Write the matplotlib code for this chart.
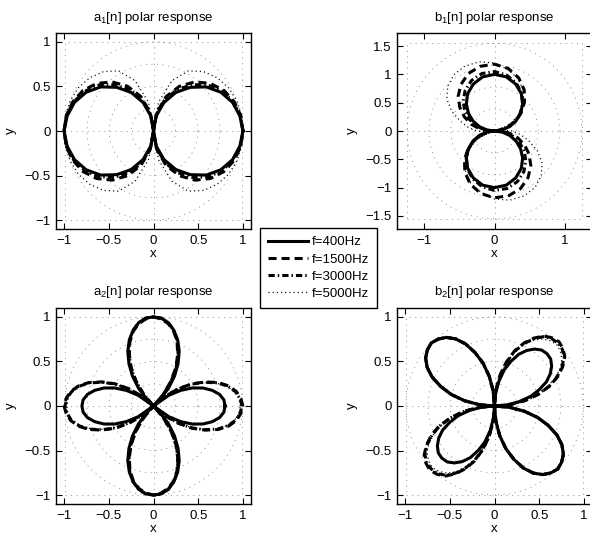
import numpy as np
import matplotlib
matplotlib.use("Agg")
import matplotlib.pyplot as plt
from matplotlib.lines import Line2D

plt.rcParams['font.family'] = ['Liberation Sans', 'DejaVu Sans']
plt.rcParams['mathtext.fontset'] = 'custom'
plt.rcParams['mathtext.rm'] = 'Liberation Sans'
plt.rcParams['mathtext.default'] = 'regular'
plt.rcParams['lines.scale_dashes'] = False

# ---------------- data ----------------
# angles (degrees) at which the responses were read
theta_deg_10 = [0, 10, 20, 30, 40, 50, 60, 70, 80, 90, 100, 110, 120, 130, 140, 150, 160, 170,
                180, 190, 200, 210, 220, 230, 240, 250, 260, 270, 280, 290, 300, 310, 320, 330, 340, 350]
theta_deg_5 = [0, 5, 10, 15, 20, 25, 30, 35, 40, 45, 50, 55, 60, 65, 70, 75, 80, 85,
               90, 95, 100, 105, 110, 115, 120, 125, 130, 135, 140, 145, 150, 155, 160, 165, 170, 175,
               180, 185, 190, 195, 200, 205, 210, 215, 220, 225, 230, 235, 240, 245, 250, 255, 260, 265,
               270, 275, 280, 285, 290, 295, 300, 305, 310, 315, 320, 325, 330, 335, 340, 345, 350, 355]

freq_labels = ['f=400Hz', 'f=1500Hz', 'f=3000Hz', 'f=5000Hz']

a1_400 = [1.00, 0.98, 0.94, 0.87, 0.77, 0.64, 0.50, 0.34, 0.17, 0.00, 0.17, 0.34, 0.50, 0.64, 0.77, 0.87, 0.94, 0.98,
          1.00, 0.98, 0.94, 0.87, 0.77, 0.64, 0.50, 0.34, 0.17, 0.00, 0.17, 0.34, 0.50, 0.64, 0.77, 0.87, 0.94, 0.98]
a1_1500 = [1.00, 0.99, 0.96, 0.91, 0.83, 0.72, 0.58, 0.41, 0.21, 0.00, 0.21, 0.41, 0.58, 0.72, 0.83, 0.91, 0.96, 0.99,
           1.00, 0.99, 0.96, 0.91, 0.83, 0.72, 0.58, 0.41, 0.21, 0.00, 0.21, 0.41, 0.58, 0.72, 0.83, 0.91, 0.96, 0.99]
a1_3000 = [1.00, 0.99, 0.95, 0.89, 0.80, 0.68, 0.54, 0.38, 0.19, 0.00, 0.19, 0.38, 0.54, 0.68, 0.80, 0.89, 0.95, 0.99,
           1.00, 0.99, 0.95, 0.89, 0.80, 0.68, 0.54, 0.38, 0.19, 0.00, 0.19, 0.38, 0.54, 0.68, 0.80, 0.89, 0.95, 0.99]
a1_5000 = [1.00, 1.00, 0.99, 0.97, 0.93, 0.87, 0.78, 0.60, 0.33, 0.05, 0.33, 0.60, 0.78, 0.87, 0.93, 0.97, 0.99, 1.00,
           1.00, 1.00, 0.99, 0.97, 0.93, 0.87, 0.78, 0.60, 0.33, 0.05, 0.33, 0.60, 0.78, 0.87, 0.93, 0.97, 0.99, 1.00]

b1_400 = [0.00, 0.11, 0.23, 0.35, 0.48, 0.62, 0.76, 0.88, 0.97, 1.00, 0.97, 0.88, 0.76, 0.62, 0.48, 0.35, 0.23, 0.11,
          0.00, 0.11, 0.23, 0.35, 0.48, 0.62, 0.76, 0.88, 0.97, 1.00, 0.97, 0.88, 0.76, 0.62, 0.48, 0.35, 0.23, 0.11]
b1_1500 = [0.08, 0.05, 0.19, 0.34, 0.49, 0.66, 0.84, 1.00, 1.12, 1.18, 1.16, 1.08, 0.95, 0.80, 0.64, 0.49, 0.35, 0.21,
           0.08, 0.05, 0.19, 0.34, 0.49, 0.66, 0.84, 1.00, 1.12, 1.18, 1.16, 1.08, 0.95, 0.80, 0.64, 0.49, 0.35, 0.21]
b1_3000 = [0.04, 0.07, 0.20, 0.33, 0.47, 0.62, 0.77, 0.90, 1.00, 1.05, 1.03, 0.95, 0.83, 0.69, 0.55, 0.41, 0.28, 0.16,
           0.04, 0.07, 0.20, 0.33, 0.47, 0.62, 0.77, 0.90, 1.00, 1.05, 1.03, 0.95, 0.83, 0.69, 0.55, 0.41, 0.28, 0.16]
b1_5000 = [0.25, 0.09, 0.09, 0.27, 0.46, 0.64, 0.82, 0.98, 1.10, 1.20, 1.24, 1.22, 1.15, 1.03, 0.88, 0.70, 0.52, 0.38,
           0.25, 0.09, 0.09, 0.27, 0.46, 0.64, 0.82, 0.98, 1.10, 1.20, 1.24, 1.22, 1.15, 1.03, 0.88, 0.70, 0.52, 0.38]

a2_400 = [0.80, 0.79, 0.75, 0.68, 0.59, 0.48, 0.35, 0.21, 0.00, 0.10, 0.26, 0.41, 0.55, 0.68, 0.79, 0.88, 0.95, 0.99,
          1.00, 0.99, 0.95, 0.88, 0.79, 0.68, 0.55, 0.41, 0.26, 0.10, 0.00, 0.21, 0.35, 0.48, 0.59, 0.68, 0.75, 0.79,
          0.80, 0.79, 0.75, 0.68, 0.59, 0.48, 0.35, 0.21, 0.00, 0.10, 0.26, 0.41, 0.55, 0.68, 0.79, 0.88, 0.95, 0.99,
          1.00, 0.99, 0.95, 0.88, 0.79, 0.68, 0.55, 0.41, 0.26, 0.10, 0.00, 0.21, 0.35, 0.48, 0.59, 0.68, 0.75, 0.79]
a2_1500 = [1.00, 0.98, 0.94, 0.87, 0.77, 0.64, 0.50, 0.34, 0.17, 0.00, 0.17, 0.34, 0.50, 0.64, 0.77, 0.87, 0.94, 0.98,
           1.00, 0.98, 0.94, 0.87, 0.77, 0.64, 0.50, 0.34, 0.17, 0.00, 0.17, 0.34, 0.50, 0.64, 0.77, 0.87, 0.94, 0.98,
           1.00, 0.98, 0.94, 0.87, 0.77, 0.64, 0.50, 0.34, 0.17, 0.00, 0.17, 0.34, 0.50, 0.64, 0.77, 0.87, 0.94, 0.98,
           1.00, 0.98, 0.94, 0.87, 0.77, 0.64, 0.50, 0.34, 0.17, 0.00, 0.17, 0.34, 0.50, 0.64, 0.77, 0.87, 0.94, 0.98]
a2_3000 = [0.99, 0.97, 0.93, 0.86, 0.76, 0.63, 0.49, 0.33, 0.16, 0.00, 0.18, 0.35, 0.51, 0.65, 0.78, 0.88, 0.95, 0.99,
           1.00, 0.99, 0.95, 0.88, 0.78, 0.65, 0.51, 0.35, 0.18, 0.00, 0.16, 0.33, 0.49, 0.63, 0.76, 0.86, 0.93, 0.97,
           0.99, 0.97, 0.93, 0.86, 0.76, 0.63, 0.49, 0.33, 0.16, 0.00, 0.18, 0.35, 0.51, 0.65, 0.78, 0.88, 0.95, 0.99,
           1.00, 0.99, 0.95, 0.88, 0.78, 0.65, 0.51, 0.35, 0.18, 0.00, 0.16, 0.33, 0.49, 0.63, 0.76, 0.86, 0.93, 0.97]
a2_5000 = [0.97, 0.96, 0.92, 0.85, 0.75, 0.62, 0.48, 0.32, 0.15, 0.00, 0.19, 0.36, 0.52, 0.66, 0.78, 0.88, 0.95, 0.99,
           1.00, 0.99, 0.95, 0.88, 0.78, 0.66, 0.52, 0.36, 0.19, 0.00, 0.15, 0.32, 0.48, 0.62, 0.75, 0.85, 0.92, 0.96,
           0.97, 0.96, 0.92, 0.85, 0.75, 0.62, 0.48, 0.32, 0.15, 0.00, 0.19, 0.36, 0.52, 0.66, 0.78, 0.88, 0.95, 0.99,
           1.00, 0.99, 0.95, 0.88, 0.78, 0.66, 0.52, 0.36, 0.19, 0.00, 0.15, 0.32, 0.48, 0.62, 0.75, 0.85, 0.92, 0.96]

b2_400 = [0.00, 0.14, 0.28, 0.42, 0.53, 0.64, 0.72, 0.78, 0.82, 0.83, 0.82, 0.78, 0.72, 0.64, 0.53, 0.42, 0.28, 0.14,
          0.00, 0.17, 0.34, 0.50, 0.64, 0.77, 0.87, 0.94, 0.98, 1.00, 0.98, 0.94, 0.87, 0.77, 0.64, 0.50, 0.34, 0.17,
          0.00, 0.14, 0.28, 0.42, 0.53, 0.64, 0.72, 0.78, 0.82, 0.83, 0.82, 0.78, 0.72, 0.64, 0.53, 0.42, 0.28, 0.14,
          0.00, 0.17, 0.34, 0.50, 0.64, 0.77, 0.87, 0.94, 0.98, 1.00, 0.98, 0.94, 0.87, 0.77, 0.64, 0.50, 0.34, 0.17]
b2_1500 = [0.00, 0.18, 0.35, 0.51, 0.66, 0.78, 0.88, 0.96, 1.00, 1.02, 1.00, 0.96, 0.88, 0.78, 0.66, 0.51, 0.35, 0.18,
           0.00, 0.17, 0.34, 0.50, 0.64, 0.77, 0.87, 0.94, 0.98, 1.00, 0.98, 0.94, 0.87, 0.77, 0.64, 0.50, 0.34, 0.17,
           0.00, 0.18, 0.35, 0.51, 0.66, 0.78, 0.88, 0.96, 1.00, 1.02, 1.00, 0.96, 0.88, 0.78, 0.66, 0.51, 0.35, 0.18,
           0.00, 0.17, 0.34, 0.50, 0.64, 0.77, 0.87, 0.94, 0.98, 1.00, 0.98, 0.94, 0.87, 0.77, 0.64, 0.50, 0.34, 0.17]
b2_3000 = [0.00, 0.17, 0.34, 0.50, 0.65, 0.77, 0.87, 0.95, 0.99, 1.00, 0.99, 0.95, 0.87, 0.77, 0.65, 0.50, 0.34, 0.17,
           0.00, 0.17, 0.34, 0.50, 0.64, 0.77, 0.87, 0.94, 0.98, 1.00, 0.98, 0.94, 0.87, 0.77, 0.64, 0.50, 0.34, 0.17,
           0.00, 0.17, 0.34, 0.50, 0.65, 0.77, 0.87, 0.95, 0.99, 1.00, 0.99, 0.95, 0.87, 0.77, 0.65, 0.50, 0.34, 0.17,
           0.00, 0.17, 0.34, 0.50, 0.64, 0.77, 0.87, 0.94, 0.98, 1.00, 0.98, 0.94, 0.87, 0.77, 0.64, 0.50, 0.34, 0.17]
b2_5000 = [0.00, 0.16, 0.33, 0.49, 0.63, 0.75, 0.85, 0.92, 0.96, 0.98, 0.96, 0.92, 0.85, 0.75, 0.63, 0.49, 0.33, 0.16,
           0.00, 0.17, 0.34, 0.50, 0.64, 0.77, 0.87, 0.94, 0.98, 1.00, 0.98, 0.94, 0.87, 0.77, 0.64, 0.50, 0.34, 0.17,
           0.00, 0.16, 0.33, 0.49, 0.63, 0.75, 0.85, 0.92, 0.96, 0.98, 0.96, 0.92, 0.85, 0.75, 0.63, 0.49, 0.33, 0.16,
           0.00, 0.17, 0.34, 0.50, 0.64, 0.77, 0.87, 0.94, 0.98, 1.00, 0.98, 0.94, 0.87, 0.77, 0.64, 0.50, 0.34, 0.17]

a1_xticks = [-1, -0.5, 0, 0.5, 1]
b1_xticks = [-1, 0, 1]
b1_yticks = [-1.5, -1, -0.5, 0, 0.5, 1, 1.5]
grid_fracs = [0.25, 0.5, 0.75, 1.0]   # polar grid circles, as fractions of the grid radius

panels = [
    dict(title='a$_1$[n] polar response', th=theta_deg_10, series=[a1_400, a1_1500, a1_3000, a1_5000],
         xlim=1.09, ylim=1.1, xt=a1_xticks, yt=a1_xticks, R=1.0, box=(56, 33)),
    dict(title='b$_1$[n] polar response', th=theta_deg_10, series=[b1_400, b1_1500, b1_3000, b1_5000],
         xlim=1.38, ylim=1.73, xt=b1_xticks, yt=b1_yticks, R=1.55, box=(397, 33)),
    dict(title='a$_2$[n] polar response', th=theta_deg_5, series=[a2_400, a2_1500, a2_3000, a2_5000],
         xlim=1.09, ylim=1.1, xt=a1_xticks, yt=a1_xticks, R=1.0, box=(56, 308)),
    dict(title='b$_2$[n] polar response', th=theta_deg_5, series=[b2_400, b2_1500, b2_3000, b2_5000],
         xlim=1.09, ylim=1.1, xt=a1_xticks, yt=a1_xticks, R=1.0, box=(397, 308)),
]

# ---------------- styles ----------------
styles = [
    dict(color='black', lw=2.2, linestyle='-'),
    dict(color='black', lw=2.2, linestyle=(0, (5.8, 3.6))),
    dict(color='black', lw=2.2, linestyle=(0, (4.5, 2.2, 1.0, 2.2))),
    dict(color='black', lw=0.9, linestyle=(0, (0.8, 2.2))),
]
grid_kw = dict(color='#808080', lw=0.55, linestyle=(0, (0.8, 3.2)))

W, H = 590, 541
fig = plt.figure(figsize=(W / 100, H / 100), dpi=100)
bw, bh = 195, 196


def fmt(v):
    return ('%g' % v).replace('-', '\u2212')


for p in panels:
    bx, by = p['box']
    ax = fig.add_axes([bx / W, 1 - (by + bh) / H, bw / W, bh / H])
    kx = p['xlim'] / p['ylim']          # keeps the grid round on screen
    R = p['R']
    phi = np.linspace(0, 2 * np.pi, 361)
    for fr in grid_fracs:
        ax.plot(kx * fr * R * np.cos(phi), fr * R * np.sin(phi), **grid_kw)
    ax.plot([-kx * R, kx * R], [0, 0], **grid_kw)
    ax.plot([0, 0], [-R, R], **grid_kw)
    ax.plot([-kx * R, kx * R, kx * R, -kx * R, -kx * R], [-R, -R, R, R, -R], **grid_kw)
    th = np.deg2rad(np.array(p['th'] + [p['th'][0]]))
    for vals, st in zip(p['series'], styles):
        r = np.array(vals + [vals[0]])
        ax.plot(r * np.cos(th), r * np.sin(th), **st)
    ax.set_xlim(-p['xlim'], p['xlim'])
    ax.set_ylim(-p['ylim'], p['ylim'])
    ax.set_xticks(p['xt'])
    ax.set_yticks(p['yt'])
    ax.set_xticklabels([fmt(v) for v in p['xt']])
    ax.set_yticklabels([fmt(v) for v in p['yt']])
    ax.tick_params(direction='in', length=4, width=0.8, top=True, right=True, labelsize=9.5, pad=4)
    for s in ax.spines.values():
        s.set_linewidth(1.0)
    ax.set_title(p['title'], fontsize=9.5, pad=9)
    ax.set_xlabel('x', fontsize=9.5, labelpad=1)
    ax.set_ylabel('y', fontsize=9.5, labelpad=5)

handles = [Line2D([], [], **st) for st in styles]
leg = fig.legend(handles, freq_labels, loc='center', bbox_to_anchor=(318.5 / W, 1 - 268 / H),
                 fontsize=9.5, frameon=True, fancybox=False, edgecolor='black', framealpha=1,
                 handlelength=3.0, handletextpad=0.3, labelspacing=0.37, borderpad=0.62,
                 borderaxespad=0)
leg.get_frame().set_linewidth(1.0)

fig.savefig('out.png', dpi=100)
